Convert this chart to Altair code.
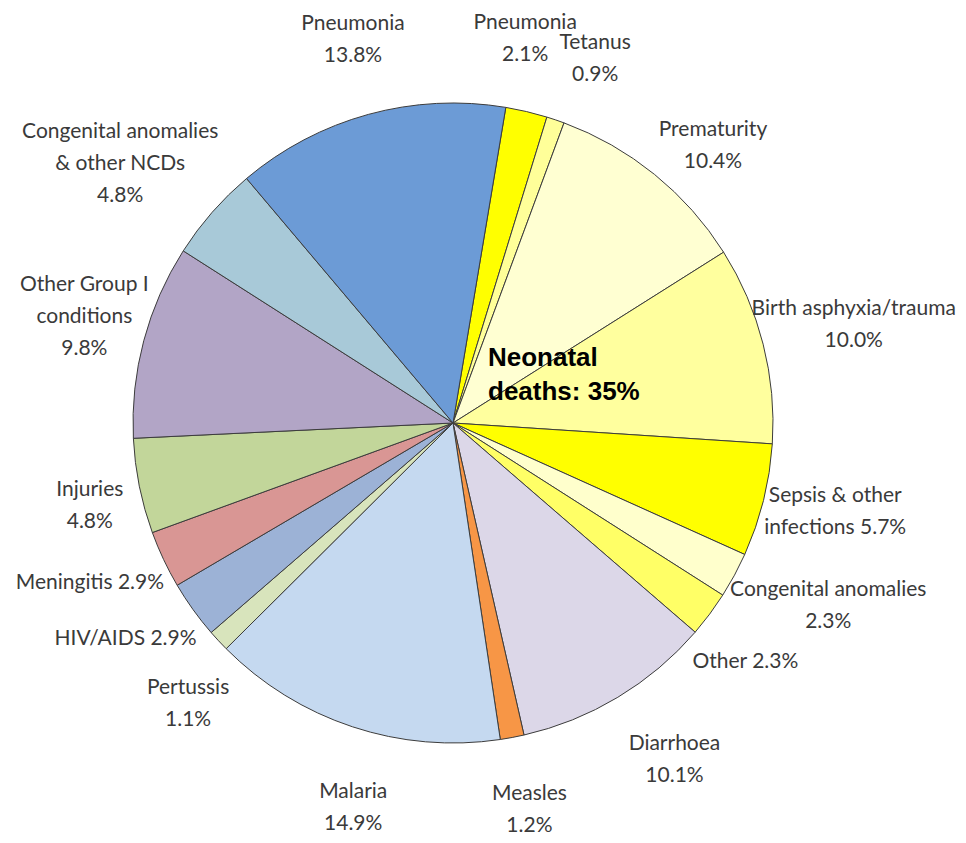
import math
import altair as alt
import pandas as pd

# ---- data (clockwise, starting near 12 o'clock) ----
keys = [
    "Pneumonia (neonatal)", "Tetanus", "Prematurity", "Birth asphyxia/trauma",
    "Sepsis & other infections", "Congenital anomalies (neonatal)", "Other (neonatal)",
    "Diarrhoea", "Measles", "Malaria", "Pertussis", "HIV/AIDS", "Meningitis",
    "Injuries", "Other Group I conditions", "Congenital anomalies & other NCDs",
    "Pneumonia",
]
names = [
    "Pneumonia", "Tetanus", "Prematurity", "Birth asphyxia/trauma",
    "Sepsis & other\ninfections", "Congenital anomalies", "Other",
    "Diarrhoea", "Measles", "Malaria", "Pertussis", "HIV/AIDS", "Meningitis",
    "Injuries", "Other Group I\nconditions", "Congenital anomalies\n& other NCDs",
    "Pneumonia",
]
joins = ["\n", "\n", "\n", "\n", " ", "\n", " ", "\n", "\n", "\n", "\n", " ", " ",
         "\n", "\n", "\n", "\n"]
values = [2.1, 0.9, 10.4, 10.0, 5.7, 2.3, 2.3, 10.1, 1.2, 14.9, 1.1, 2.9, 2.9,
          4.8, 9.8, 4.8, 13.8]
colors = [
    "#ffff00", "#ffff99", "#ffffd2", "#ffff9e", "#ffff00", "#ffffcc", "#ffff66",
    "#dcd7e8", "#f79646", "#c5d9f0", "#d8e4bc", "#9cb2d6", "#d99694",
    "#c2d69a", "#b2a5c6", "#a8c9d8", "#6c9bd6",
]
annotation = "Neonatal\ndeaths: 35%"

# ---- layout (label nudges in pixels, relative to the slice mid-angle) ----
START = math.radians(9.5)
CX, CY = 445, 415
R_PIE = 320
R_LABEL = 397
LINE_H = 32
nudge = {
    "Pneumonia (neonatal)": (-19, 2),
    "Tetanus": (15, 12),
    "Prematurity": (10, 31),
    "Birth asphyxia/trauma": (16, 0),
    "Sepsis & other infections": (-3, -7),
    "Congenital anomalies (neonatal)": (26, -6),
    "Other (neonatal)": (-26, 2),
    "Diarrhoea": (17, -3),
    "Measles": (3, -3),
    "Malaria": (25, 8),
    "Pertussis": (26, 11),
    "HIV/AIDS": (-5, -16),
    "Meningitis": (-4, -9),
    "Injuries": (26, 5),
    "Other Group I conditions": (15, -4),
    "Congenital anomalies & other NCDs": (-34, 2),
    "Pneumonia": (5, 0),
}

df = pd.DataFrame({
    "key": keys,
    "label": [n + j + f"{v:.1f}%" for n, j, v in zip(names, joins, values)],
    "value": values,
    "order": list(range(len(values))),
})
df["mid"] = df["value"].cumsum() - df["value"] / 2

theta_scale = alt.Scale(domain=[0, 100], range=[START, START + 2 * math.pi])
base = alt.Chart(df)

pie = base.mark_arc(outerRadius=R_PIE, stroke="#3c3c3c", strokeWidth=1).encode(
    theta=alt.Theta("value:Q", stack=True, scale=theta_scale),
    color=alt.Color("key:N", scale=alt.Scale(domain=keys, range=colors), legend=None),
    order=alt.Order("order:Q"),
    x=alt.value(CX),
    y=alt.value(CY),
)

layers = [pie]
for k, lab in zip(df["key"], df["label"]):
    n = lab.count("\n") + 1
    dx, dy = nudge.get(k, (0, 0))
    layers.append(
        base.transform_filter(alt.datum.key == k).mark_text(
            font="Lato", fontSize=21, lineHeight=LINE_H, lineBreak="\n",
            color="#3a3a3a", align="center", baseline="middle",
            dx=dx, dy=dy - (n - 1) * LINE_H / 2,
        ).encode(
            theta=alt.Theta("mid:Q", stack=False, scale=theta_scale),
            radius=alt.value(R_LABEL),
            text="label:N",
            x=alt.value(CX),
            y=alt.value(CY),
        )
    )

note = alt.Chart(pd.DataFrame({"t": [annotation]})).mark_text(
    font="Liberation Sans", fontWeight="bold", fontSize=26, lineHeight=34,
    lineBreak="\n", color="black", align="left", baseline="middle",
).encode(text="t:N", x=alt.value(480), y=alt.value(350))
layers.append(note)

chart = alt.layer(*layers).properties(
    width=950, height=827, padding=0,
    autosize=alt.AutoSizeParams(type="none"),
).configure_view(strokeWidth=0)

chart.save("out.html", embed_options={"renderer": "svg", "actions": False})
